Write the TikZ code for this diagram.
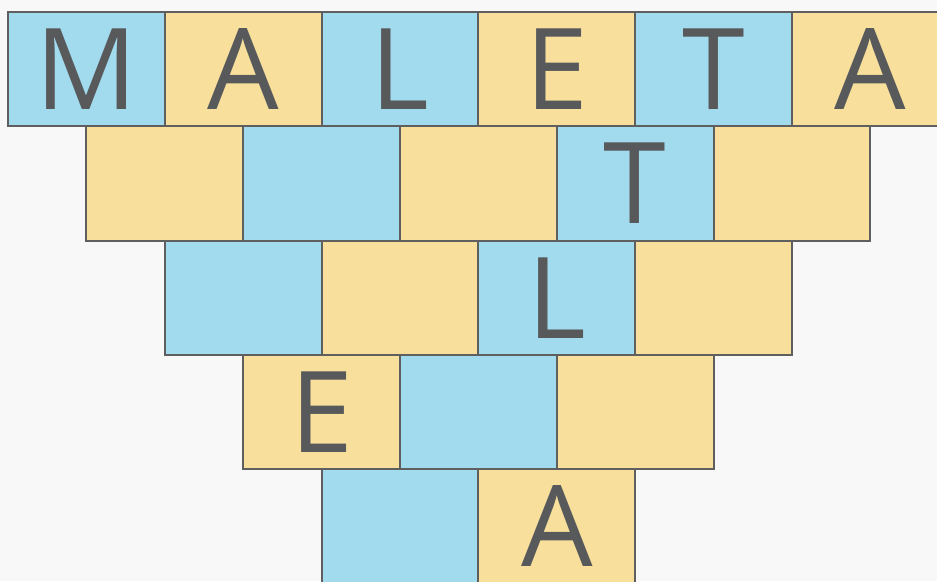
\documentclass[tikz,border=0pt]{standalone}
\usepackage{fontspec}
\setmainfont{Open Sans}
\definecolor{celeste}{HTML}{A2DBEE}
\definecolor{areia}{HTML}{F8E09C}
\definecolor{borda}{HTML}{5F5F5F}
\definecolor{letra}{HTML}{58595B}
\definecolor{fundo}{HTML}{F8F8F8}

\begin{document}
\begin{tikzpicture}[x=1pt,y=-1pt,
  caixa/.style={rectangle, draw=borda, line width=2pt, minimum width=156.8pt, minimum height=114.3pt, inner sep=0pt,
    text=letra, font=\fontsize{113}{113}\selectfont, text height=80.7pt, text depth=0pt},
  cor0/.style={fill=celeste},
  cor1/.style={fill=areia}]
% fundo e recorte
\fill[fundo] (0,0) rectangle (937,581);
\useasboundingbox (0,0) rectangle (937,581);
\clip (0,0) rectangle (937,581);
% linha 1: MALETA
\foreach \c/\l [evaluate=\c as \k using {int(mod(\c,2))}] in {0/M,1/A,2/L,3/E,4/T,5/A}
  \node[caixa, cor\k] (l1-\c) at ({86.4+156.8*\c},69.15) {\l};
% linha 2
\foreach \c/\l [evaluate=\c as \k using {int(mod(\c+1,2))}] in {0/{},1/{},2/{},3/T,4/{}}
  \node[caixa, cor\k] (l2-\c) at ({164.8+156.8*\c},183.45) {\l};
% linha 3
\foreach \c/\l [evaluate=\c as \k using {int(mod(\c,2))}] in {0/{},1/{},2/L,3/{}}
  \node[caixa, cor\k] (l3-\c) at ({243.2+156.8*\c},297.75) {\l};
% linha 4
\foreach \c/\l [evaluate=\c as \k using {int(mod(\c+1,2))}] in {0/E,1/{},2/{}}
  \node[caixa, cor\k] (l4-\c) at ({321.6+156.8*\c},412.05) {\l};
% linha 5
\foreach \c/\l [evaluate=\c as \k using {int(mod(\c,2))}] in {0/{},1/A}
  \node[caixa, cor\k] (l5-\c) at ({400.0+156.8*\c},526.35) {\l};
\end{tikzpicture}
\end{document}
